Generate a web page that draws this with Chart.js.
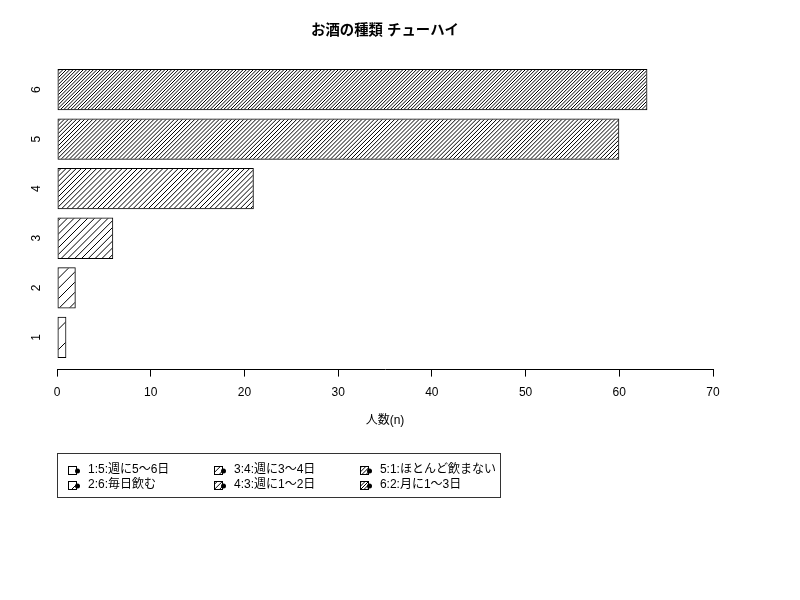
<!DOCTYPE html>
<html>
<head>
<meta charset="utf-8">
<script src="https://cdn.jsdelivr.net/npm/chart.js@4.4.1/dist/chart.umd.min.js"></script>
<style>
  html, body { margin: 0; padding: 0; background: #fff; }
  canvas { display: block; background: #fff; }
</style>
</head>
<body>
<canvas id="c" width="800" height="600"></canvas>
<script>
// data
const categories = ['1', '2', '3', '4', '5', '6'];
const counts = [1, 2, 6, 21, 60, 63];
const legendLabels = [
  '1:5:週に5〜6日',
  '2:6:毎日飲む',
  '3:4:週に3〜4日',
  '4:3:週に1〜2日',
  '5:1:ほとんど飲まない',
  '6:2:月に1〜3日',
];
const xTicks = [0, 10, 20, 30, 40, 50, 60, 70];
const densities = [5, 10, 15, 20, 25, 30]; // hatch lines per inch

// barplot style positions: width 1, space 0.2
const barPos = categories.map((c, i) => 0.7 + i * 1.2);

const canvas = document.getElementById('c');
const ctx = canvas.getContext('2d');

function hatch(d) {
  const T = 102; // ~ one inch along the diagonal at 72dpi
  const t = document.createElement('canvas');
  t.width = T; t.height = T;
  const g = t.getContext('2d');
  g.strokeStyle = '#000';
  g.lineWidth = 1;
  for (let j = 0; j < d; j++) {
    const o = j * T / d;
    for (const k of [-T, 0, T]) {
      const s = o + k;
      g.beginPath();
      g.moveTo(-2, s + 2);
      g.lineTo(T + 2, s - T - 2);
      g.stroke();
    }
  }
  return ctx.createPattern(t, 'repeat');
}
const patterns = densities.map(hatch);

Chart.defaults.font.family = '"Liberation Sans", "Noto Sans CJK JP", sans-serif';
Chart.defaults.font.size = 12;
Chart.defaults.color = '#000';

// R style legend: 3 columns, filled column by column
const rLegend = {
  id: 'rLegend',
  afterDraw(chart) {
    const c = chart.ctx;
    const left = 57, top = 453, rowH = 15, gap = 64.6;
    const rows = 2;
    c.save();
    c.font = '12px "Liberation Sans", "Noto Sans CJK JP", sans-serif';
    c.textBaseline = 'middle';
    c.fillStyle = '#000';
    const cols = Math.ceil(legendLabels.length / rows);
    let tx = left + 31;
    let right = tx;
    for (let col = 0; col < cols; col++) {
      let maxW = 0;
      for (let r = 0; r < rows; r++) {
        const i = col * rows + r;
        if (i >= legendLabels.length) break;
        const y = top + 16.5 + rowH * r;
        c.fillStyle = '#000';
        c.fillText(legendLabels[i], tx, y);
        maxW = Math.max(maxW, c.measureText(legendLabels[i]).width);
        // hatched key box
        const bx = Math.round(tx - 20) + 0.5, by = Math.round(y - 4) + 0.5;
        c.fillStyle = patterns[i];
        c.fillRect(bx, by, 8, 8);
        c.strokeStyle = '#000';
        c.lineWidth = 1;
        c.strokeRect(bx, by, 8, 8);
        c.fillStyle = '#000';
        c.beginPath();
        c.arc(bx + 9, by + 4.5, 2.5, 0, Math.PI * 2);
        c.fill();
      }
      right = tx + maxW;
      tx += maxW + gap;
    }
    c.strokeStyle = '#333';
    c.lineWidth = 1;
    c.strokeRect(left + 0.5, top + 0.5, Math.round(right + 4.5 - left), 44);
    c.restore();
  }
};

new Chart(canvas, {
  type: 'bar',
  data: {
    datasets: [{
      data: counts.map((v, i) => ({ x: v, y: barPos[i] })),
      backgroundColor: patterns,
      borderColor: '#000',
      borderWidth: 1,
      borderSkipped: false,
      categoryPercentage: 1,
      barPercentage: 1 / 1.2,
    }],
  },
  options: {
    indexAxis: 'y',
    responsive: false,
    devicePixelRatio: 1,
    animation: false,
    layout: { padding: { left: 0, right: 87, top: 0, bottom: 170.4 } },
    plugins: {
      legend: { display: false },
      tooltip: { enabled: false },
      title: {
        display: true,
        text: 'お酒の種類 チューハイ',
        fullSize: false,
        color: '#000',
        font: { size: 14.4, weight: 'bold' },
        padding: { top: 22.4, bottom: 17.7 },
      },
    },
    scales: {
      x: {
        type: 'linear',
        position: 'bottom',
        min: 0,
        max: 70,
        afterBuildTicks: (s) => { s.ticks = xTicks.map((v) => ({ value: v })); },
        afterFit: (s) => { s.height = 60; },
        grid: { drawOnChartArea: false, drawTicks: true, tickLength: 7, color: '#000' },
        border: { display: true, color: '#000' },
        ticks: { padding: 8.5, autoSkip: false, maxRotation: 0, color: '#000' },
        title: { display: true, text: '人数(n)', color: '#000', padding: { top: 0, bottom: 1.4 } },
      },
      y: {
        type: 'linear',
        position: 'left',
        min: -0.08,
        max: 7.48,
        offset: false,
        afterBuildTicks: (s) => { s.ticks = barPos.map((v) => ({ value: v })); },
        afterFit: (s) => { s.width = 57; },
        grid: { display: false },
        border: { display: false },
        ticks: {
          autoSkip: false,
          minRotation: 90,
          maxRotation: 90,
          crossAlign: 'center',
          padding: 8.7,
          color: '#000',
          callback: (v, i) => categories[i],
        },
      },
    },
  },
  plugins: [rLegend],
});
</script>
</body>
</html>
